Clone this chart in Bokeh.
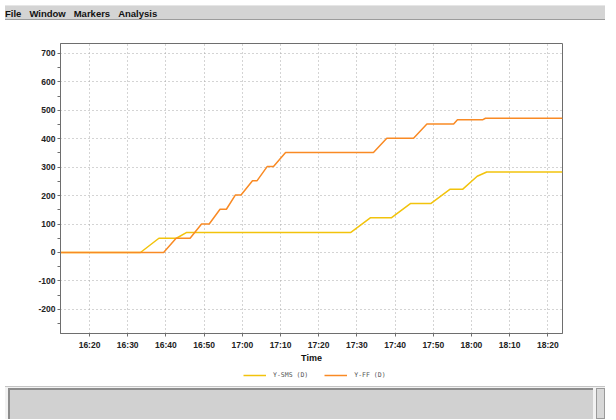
import pandas as pd
from bokeh.plotting import figure
from bokeh.layouts import column
from bokeh.models import (Div, Range1d, FixedTicker, DatetimeTickFormatter,
                          NumeralTickFormatter, Legend, LegendItem)
from bokeh.embed import file_html
from bokeh.resources import INLINE

# ---------------- data ----------------
DAY = "2024-01-01 "

sms_times = ["16:12:24", "16:33:20", "16:38:10", "16:42:45", "16:45:20",
             "17:28:20", "17:33:30", "17:39:00", "17:44:00", "17:49:20",
             "17:54:20", "17:57:40", "18:01:30", "18:04:00", "18:23:50"]
sms_values = [0, 0, 50, 50, 70,
              70, 122, 122, 172, 172,
              222, 222, 268, 283, 283]

ff_times = ["16:12:24", "16:39:24", "16:42:40", "16:46:20", "16:49:20",
            "16:51:20", "16:54:10", "16:55:50", "16:58:10", "16:59:40",
            "17:02:40", "17:03:50", "17:06:30", "17:08:10", "17:11:20",
            "17:34:20", "17:37:50", "17:44:50", "17:48:20", "17:55:20",
            "17:56:20", "18:03:00", "18:03:40", "18:23:50"]
ff_values = [0, 0, 50, 50, 100,
             100, 152, 152, 202, 202,
             252, 252, 302, 302, 352,
             352, 402, 402, 452, 452,
             467, 467, 472, 472]

series_names = ["Y-SMS (D)", "Y-FF (D)"]
x_tick_labels = ["16:20", "16:30", "16:40", "16:50", "17:00", "17:10", "17:20",
                 "17:30", "17:40", "17:50", "18:00", "18:10", "18:20"]
y_ticks = [-200, -100, 0, 100, 200, 300, 400, 500, 600, 700]
y_minor_ticks = [-250, -150, -50, 50, 150, 250, 350, 450, 550, 650, 750]
menu_items = ["File", "Window", "Markers", "Analysis"]
x_axis_title = "Time"

# ---------------- conversion ----------------
def to_dt(lst):
    return pd.to_datetime([DAY + t for t in lst])

sms_x = to_dt(sms_times)
ff_x = to_dt(ff_times)
tick_ms = [pd.Timestamp(DAY + t + ":00").value / 1e6 for t in x_tick_labels]

YELLOW = "#F2C30C"
ORANGE = "#F98A24"
AXIS = "#6e6e6e"

p = figure(width=600, height=342, x_axis_type="datetime",
           output_backend="svg", toolbar_location=None,
           x_range=Range1d(start=sms_x[0], end=sms_x[-1]),
           y_range=Range1d(-285, 735),
           min_border_left=60, min_border_right=38,
           min_border_top=16, min_border_bottom=36)

p.background_fill_color = "white"
p.border_fill_color = "white"
p.outline_line_color = AXIS
p.outline_line_width = 1

r1 = p.line(sms_x, sms_values, line_color=YELLOW, line_width=1.5)
r2 = p.line(ff_x, ff_values, line_color=ORANGE, line_width=1.5)

# axes
xa = p.xaxis[0]
xa.ticker = FixedTicker(ticks=tick_ms, minor_ticks=[])
xa.formatter = DatetimeTickFormatter(minutes="%H:%M", hours="%H:%M",
                                     hourmin="%H:%M", minsec="%H:%M")
xa.axis_label = x_axis_title
ya = p.yaxis[0]
ya.ticker = FixedTicker(ticks=y_ticks, minor_ticks=y_minor_ticks)
ya.formatter = NumeralTickFormatter(format="0")

for ax in (xa, ya):
    ax.axis_line_color = AXIS
    ax.major_tick_line_color = AXIS
    ax.minor_tick_line_color = AXIS
    ax.major_tick_out = 3
    ax.major_tick_in = 0
    ax.minor_tick_out = 3
    ax.minor_tick_in = 0
    ax.major_label_text_font = "Liberation Sans"
    ax.major_label_text_font_size = "8.5px"
    ax.major_label_text_font_style = "bold"
    ax.major_label_text_color = "#222222"
ya.major_label_standoff = 2
xa.major_label_standoff = 3
xa.axis_label_text_font = "Liberation Sans"
xa.axis_label_text_font_size = "9px"
xa.axis_label_text_font_style = "bold"
xa.axis_label_text_color = "#111111"
xa.axis_label_standoff = 0

# grid
for g in (p.xgrid[0], p.ygrid[0]):
    g.grid_line_color = "#a8a8a8"
    g.grid_line_dash = "1 3"
    g.grid_line_width = 1
p.ygrid[0].ticker = FixedTicker(ticks=y_ticks)
p.xgrid[0].ticker = FixedTicker(ticks=tick_ms)

# legend strip: its own small canvas; the series are added with a view
# range that keeps them out of sight, so only their legend entries show
lf = figure(width=600, height=12, output_backend="svg", toolbar_location=None,
            x_axis_location=None, y_axis_location=None, min_border=0,
            x_range=Range1d(0, 1), y_range=Range1d(0, 1))
lf.outline_line_color = None
lf.grid.visible = False
lf.background_fill_color = "white"
lf.border_fill_color = "white"
l1 = lf.line(sms_x, sms_values, line_color=YELLOW, line_width=1.5)
l2 = lf.line(ff_x, ff_values, line_color=ORANGE, line_width=1.5)
legend = Legend(items=[LegendItem(label=series_names[0], renderers=[l1]),
                       LegendItem(label=series_names[1], renderers=[l2])],
                orientation="horizontal", location=(183, 2))
legend.border_line_color = None
legend.background_fill_alpha = 0
legend.label_text_font = "DejaVu Sans Mono"
legend.label_text_font_size = "6.5px"
legend.label_text_color = "#555555"
legend.glyph_width = 23
legend.glyph_height = 8
legend.label_standoff = 7
legend.spacing = 16
legend.padding = 0
legend.margin = 0
legend.label_height = 8
lf.add_layout(legend, "center")

# menu bar
items_html = "".join(
    f'<span style="margin-right:8px">{m}</span>' for m in menu_items)
menu = Div(text=(
    '<div style="width:600px;height:15px;background:#d4d4d4;'
    'border-bottom:1px solid #9c9c9c;border-top:1px solid #e6e6e6;'
    'font:bold 9.5px \'Liberation Sans\';color:#111;line-height:15px;'
    'white-space:nowrap;overflow:hidden;">'
    + items_html + '</div>'), width=600, height=17)

# bottom status panel
bottom = Div(text=(
    '<div style="position:relative;width:600px;height:33px;background:#f2f2f2;overflow:hidden;">'
    '<div style="position:absolute;left:0;top:0;width:600px;height:1px;background:#c4c4c4"></div>'
    '<div style="position:absolute;left:3px;top:2px;width:585px;height:31px;'
    'background:#d1d1d1;border-top:2px solid #8c8c8c;border-left:2px solid #8c8c8c;'
    'box-sizing:border-box;"></div>'
    '<div style="position:absolute;left:591px;top:2px;width:9px;height:31px;'
    'background:#d8d8d8;border:1px solid #9a9a9a;box-sizing:border-box;"></div>'
    '</div>'), width=600, height=33)

layout = column(menu, p, lf, bottom, spacing=0)

open("out.html", "w").write(file_html(layout, INLINE))
